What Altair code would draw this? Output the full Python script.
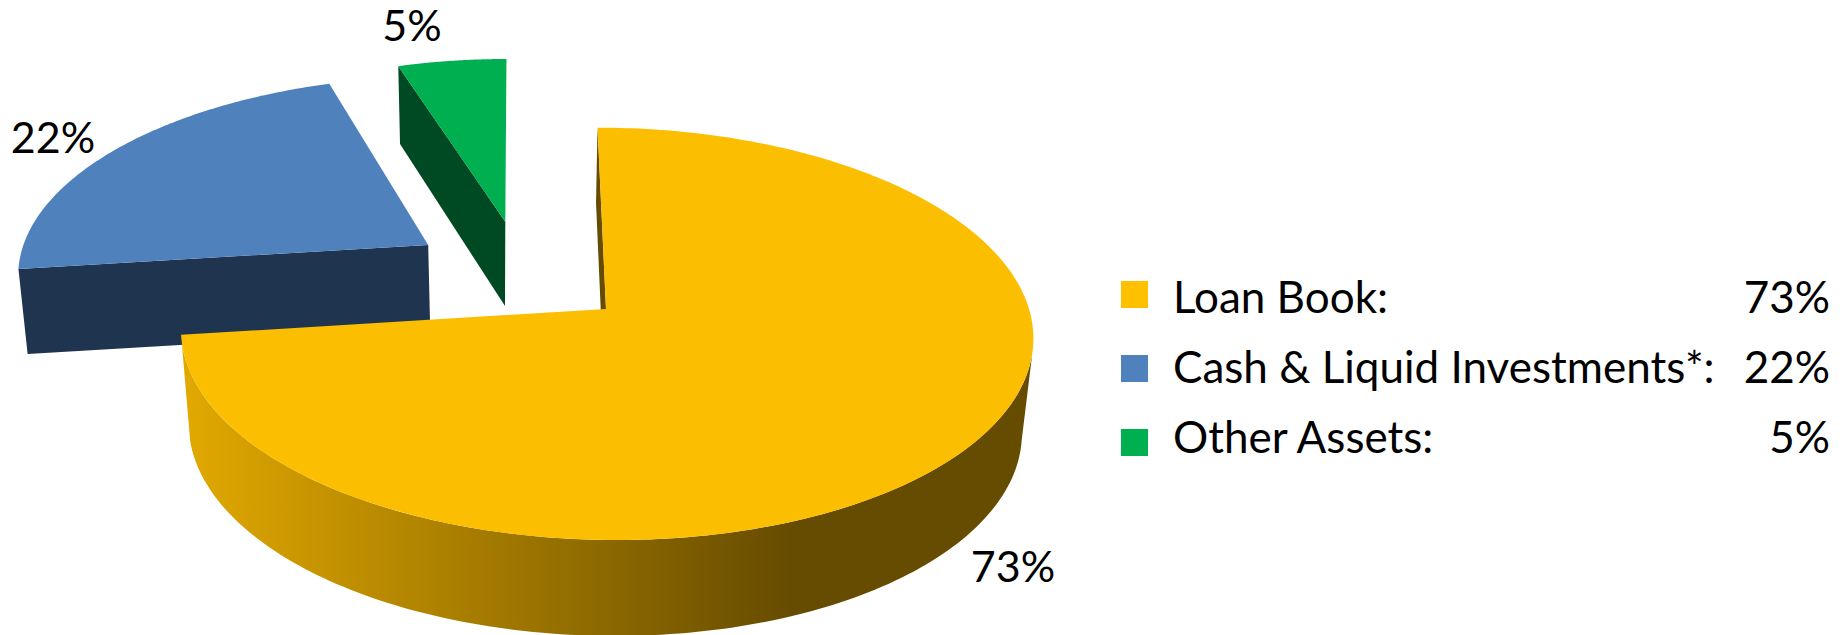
import math
import altair as alt
import pandas as pd

categories = ["Loan Book:", "Cash & Liquid Investments*:", "Other Assets:"]
shares = [73, 22, 5]
share_labels = ["73%", "22%", "5%"]
top_colors = ["#FBBE00", "#4F81BD", "#00AF50"]
key_colors = ["#FFC000", "#4F81BD", "#00B050"]
side_colors = ["#664C00", "#1F344F", "#004A23"]

# Perspective planes of each exploded slice, in the picture's pixel space
K = 0.1205
top_plane = [
    dict(x0=606.0, y0=309.0, A=423.0, B=203.2, S=-9.5, k=K),
    dict(x0=428.2, y0=245.0, A=404.8, B=189.0, S=15.6, k=K),
    dict(x0=505.3, y0=221.7, A=390.0, B=182.3, S=1.3, k=K),
]
bottom_plane = [
    dict(x0=604.7, y0=399.0, A=415.6, B=214.6, S=-9.5, k=0.0947),
    dict(x0=430.2, y0=330.0, A=398.0, B=189.0, S=13.0, k=K),
    dict(x0=505.0, y0=306.0, A=376.0, B=186.5, S=1.3, k=0.10),
]
rim_plane = dict(x0=604.7, y0=415.0, A=415.6, B=206.6, S=-9.5, k=0.065)
W, H = 1826, 627
x_scale = alt.Scale(domain=[8, 8 + W], range=[0, W])
y_scale = alt.Scale(domain=[8, 8 + H], range=[0, H])


def project(plane, angle, r=1.0):
    u = r * math.sin(math.radians(angle))
    v = r * math.cos(math.radians(angle))
    w = 1 + plane["k"] * v
    return (plane["x0"] + (plane["A"] * u + plane["S"] * v) / w,
            plane["y0"] - plane["B"] * v / w)


def arc(plane, a0, a1, n=140):
    return [project(plane, a0 + (a1 - a0) * i / n) for i in range(n + 1)]


def polygon(points, fill):
    closed = list(points) + [points[0]]
    df = pd.DataFrame(closed, columns=["x", "y"])
    df["i"] = range(len(df))
    return alt.Chart(df).mark_line(fill=fill, strokeWidth=0, interpolate="linear").encode(
        x=alt.X("x:Q", scale=x_scale, axis=None),
        y=alt.Y("y:Q", scale=y_scale, axis=None),
        order=alt.Order("i:Q"),
    )


bounds = [0]
for s in shares:
    bounds.append(bounds[-1] + s * 3.6)
a_yellow, a_blue, a_green = bounds[1], bounds[2], bounds[3]
layers = []

# Blue slice: visible side is its first radial edge
tp, bp = top_plane[1], bottom_plane[1]
layers.append(polygon([(tp["x0"], tp["y0"]), project(tp, a_yellow), project(bp, a_yellow), (bp["x0"], bp["y0"])], side_colors[1]))
layers.append(polygon([(tp["x0"], tp["y0"])] + arc(tp, a_yellow, a_blue), top_colors[1]))

# Green slice: visible side is its first radial edge
tp, bp = top_plane[2], bottom_plane[2]
layers.append(polygon([(tp["x0"], tp["y0"]), project(tp, a_blue), project(bp, a_blue), (bp["x0"], bp["y0"])], side_colors[2]))
layers.append(polygon([(tp["x0"], tp["y0"])] + arc(tp, a_blue, a_green), top_colors[2]))

# Yellow slice: sliver at its 12 o'clock edge, shaded rim, top face
tp, bp = top_plane[0], bottom_plane[0]
layers.append(polygon([(tp["x0"], tp["y0"]), project(tp, 0), project(bp, 0), (bp["x0"], bp["y0"])], side_colors[0]))
rim_gradient = alt.Gradient(
    gradient="linear", x1=0, x2=1, y1=0, y2=0,
    stops=[alt.GradientStop(offset=0, color="#E2A900"),
           alt.GradientStop(offset=0.715, color="#664C00"),
           alt.GradientStop(offset=1, color="#664C00")],
)
layers.append(polygon(arc(tp, 101, a_yellow) + arc(rim_plane, a_yellow, 97), rim_gradient))
layers.append(polygon([(tp["x0"], tp["y0"])] + arc(tp, 0, a_yellow, 300), top_colors[0]))

FONT = "Lato"
pct = pd.DataFrame({"label": share_labels, "x": [1013, 53, 412], "y": [582, 153, 41]})
layers.append(alt.Chart(pct).mark_text(font=FONT, fontSize=43, align="center", baseline="alphabetic", color="black").encode(
    x=alt.X("x:Q", scale=x_scale, axis=None), y=alt.Y("y:Q", scale=y_scale, axis=None), text="label:N"))

legend = pd.DataFrame({
    "cat": categories, "value": share_labels, "color": key_colors,
    "kx": [1134.5] * 3, "ky": [294.5, 368.5, 442.5],
    "tx": [1173] * 3, "vx": [1830] * 3, "ty": [313, 383, 453],
})
layers.append(alt.Chart(legend).mark_square(size=729, opacity=1).encode(
    x=alt.X("kx:Q", scale=x_scale, axis=None), y=alt.Y("ky:Q", scale=y_scale, axis=None),
    color=alt.Color("color:N", scale=None)))
layers.append(alt.Chart(legend).mark_text(font=FONT, fontSize=44, align="left", baseline="alphabetic", color="black").encode(
    x=alt.X("tx:Q", scale=x_scale, axis=None), y=alt.Y("ty:Q", scale=y_scale, axis=None), text="cat:N"))
layers.append(alt.Chart(legend).mark_text(font=FONT, fontSize=44, align="right", baseline="alphabetic", color="black").encode(
    x=alt.X("vx:Q", scale=x_scale, axis=None), y=alt.Y("ty:Q", scale=y_scale, axis=None), text="value:N"))

chart = alt.layer(*layers).properties(
    width=W, height=H, padding=0, autosize=alt.AutoSizeParams(type="none"), background="white"
).configure_view(stroke=None)

chart.save("out.html", embed_options={"renderer": "svg", "actions": False})
